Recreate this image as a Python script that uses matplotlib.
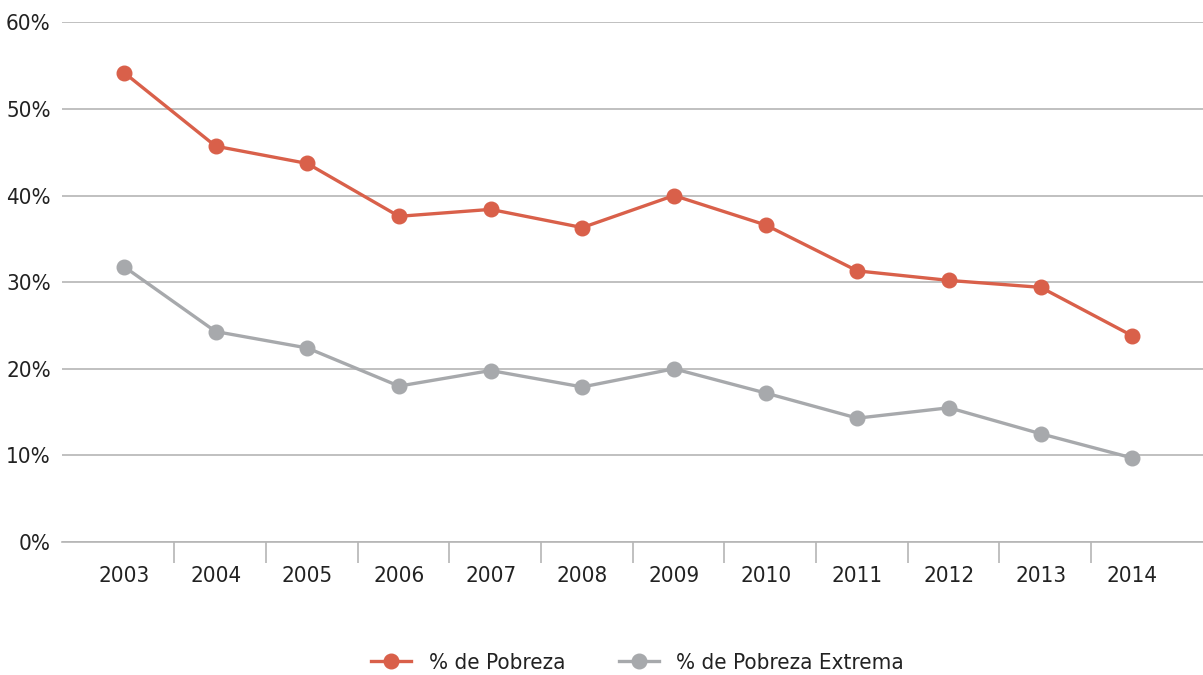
import matplotlib
matplotlib.use('Agg')
import matplotlib.pyplot as plt
import numpy as np

plt.rcParams['font.family'] = ['DejaVu Sans']
plt.rcParams['font.stretch'] = 'condensed'

years = ['2003', '2004', '2005', '2006', '2007', '2008', '2009', '2010', '2011', '2012', '2013', '2014']
pobreza = [54.2, 45.7, 43.7, 37.6, 38.4, 36.3, 40.0, 36.6, 31.3, 30.2, 29.4, 23.8]
extrema = [31.8, 24.3, 22.4, 18.0, 19.8, 17.9, 20.0, 17.2, 14.3, 15.5, 12.5, 9.7]

red = '#D9604A'
gray = '#A7A9AC'
grid_c = '#B5B5B5'

fig = plt.figure(figsize=(12.03, 6.75), dpi=100)
ax = fig.add_axes([0.0515, 0.197, 0.9485, 0.770])

x = np.arange(len(years))
ax.plot(x, pobreza, color=red, lw=2.4, marker='o', ms=10.5, label='% de Pobreza', zorder=3)
ax.plot(x, extrema, color=gray, lw=2.4, marker='o', ms=10.5, label='% de Pobreza Extrema', zorder=3)

ax.set_ylim(0, 60)
ax.set_xlim(-0.676, 11.77)
ax.set_yticks(range(0, 61, 10))
ax.set_yticklabels([f'{v}%' for v in range(0, 61, 10)])
ax.yaxis.grid(True, color=grid_c, lw=1.2)
ax.set_axisbelow(True)

ax.set_xticks(x)
ax.set_xticklabels(years)
ax.set_xticks(x[:-1] + 0.55, minor=True)
ax.tick_params(axis='x', which='major', length=0, pad=17, labelsize=16, colors='#222222')
ax.tick_params(axis='x', which='minor', length=15, width=1.2, color=grid_c)
ax.tick_params(axis='y', length=0, pad=8, labelsize=16, colors='#222222')

for s in ['top', 'right', 'left']:
    ax.spines[s].set_visible(False)
ax.spines['bottom'].set_color(grid_c)
ax.spines['bottom'].set_linewidth(1.2)

fig.legend(loc='center', bbox_to_anchor=(0.53, 0.018), ncol=2, frameon=False,
           fontsize=16, handlelength=1.8, handletextpad=0.8, columnspacing=2.4,
           labelcolor='#222222')

plt.savefig('out.png', dpi=100)
